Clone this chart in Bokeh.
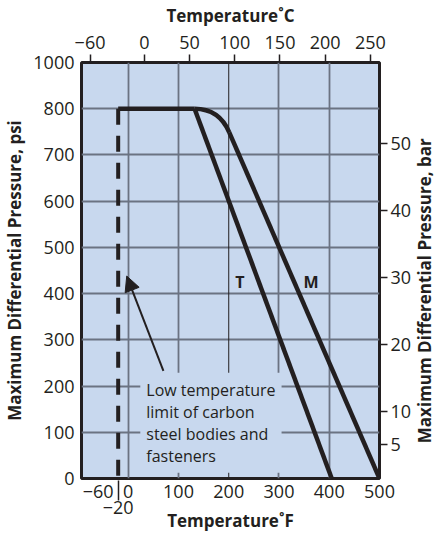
import math
from bokeh.plotting import figure
from bokeh.models import (Range1d, LinearAxis, FixedTicker, Span, Label, Arrow,
                          NormalHead)
from bokeh.embed import file_html
from bokeh.resources import INLINE

# ---------------- data ----------------
x_min_f, x_max_f = -93, 500
psi_min, psi_top = 0, 900          # top grid row is labelled 1000 in the original
PSI_PER_BAR = 14.5

f_ticks = [-60, 0, 100, 200, 300, 400, 500]
f_extra_ticks = [-20]
c_ticks = [-60, 0, 50, 100, 150, 200, 250]
psi_ticks = [0, 100, 200, 300, 400, 500, 600, 700, 800, 900]
psi_tick_labels = ["0", "100", "200", "300", "400", "500", "600", "700", "800", "1000"]
bar_ticks = [5, 10, 20, 30, 40, 50]

low_limit_f = [-20, -20]
low_limit_psi = [800, 0]

plateau_f = [-20, 132]
plateau_psi = [800, 800]

t_f = [132, 405]
t_psi = [800, 0]

# M: rounded corner then straight descent
m_curve_start = (132, 800)
m_curve_ctrl = (181, 800)
m_curve_end = (201, 749)
m_f = [201, 500]
m_psi = [749, 0]

arrow_tail = (70, 233)
arrow_tip = (-3, 438)
note_pos = (24, 229)
note_text = "Low temperature\nlimit of carbon\nsteel bodies and\nfasteners"
t_label_pos = (222, 425)
m_label_pos = (364, 425)

# ---------------- style ----------------
INK = "#231f20"
BG = "#c8d8ee"
GRID = "#6b7382"
FONT = "Open Sans"


def f_to_c(f):
    return (f - 32) * 5.0 / 9.0


p = figure(frame_width=298, frame_height=416, output_backend="svg",
           toolbar_location=None,
           x_range=Range1d(x_min_f, x_max_f), y_range=Range1d(psi_min, psi_top),
           min_border=0)
p.background_fill_color = BG
p.border_fill_color = "white"
p.outline_line_color = INK
p.outline_line_width = 3

# grid
p.xgrid.ticker = FixedTicker(ticks=[0, 100, 300, 400])
p.ygrid.ticker = FixedTicker(ticks=[100, 200, 300, 400, 500, 600, 700, 800])
for g in (p.xgrid[0], p.ygrid[0]):
    g.grid_line_color = GRID
    g.grid_line_width = 1.8
p.add_layout(Span(location=200, dimension="height", line_color=INK,
                  line_width=1, level="underlay"))


def style_axis(ax, label):
    ax.axis_label = label
    ax.axis_label_text_font = FONT
    ax.axis_label_text_font_style = "bold"
    ax.axis_label_text_font_size = "17px"
    ax.axis_label_text_color = INK
    ax.major_label_text_font = FONT
    ax.major_label_text_font_size = "18px"
    ax.major_label_text_color = INK
    ax.axis_line_color = None
    ax.major_tick_line_color = INK
    ax.major_tick_line_width = 1.5
    ax.minor_tick_line_color = None
    ax.major_tick_in = 0


# bottom axis (Fahrenheit), main tick labels
bx = p.xaxis[0]
style_axis(bx, None)
bx.ticker = FixedTicker(ticks=f_ticks)
bx.major_tick_out = 0
bx.major_label_standoff = 6

# second bottom row: the -20 label (one line lower) and the axis title
bx2 = LinearAxis()
style_axis(bx2, "Temperature\u02daF")
bx2.ticker = FixedTicker(ticks=f_extra_ticks)
bx2.major_tick_out = 0
bx2.major_tick_in = 20
bx2.major_label_standoff = 0
bx2.axis_label_standoff = -8
p.add_layout(bx2, "below")

# left axis (psi)
ly = p.yaxis[0]
style_axis(ly, "Maximum Differential Pressure, psi")
ly.ticker = FixedTicker(ticks=psi_ticks)
ly.major_label_overrides = {v: s for v, s in zip(psi_ticks, psi_tick_labels)}
ly.major_tick_out = 0
ly.major_label_standoff = 7
ly.axis_label_standoff = 4

# top axis (Celsius)
p.extra_x_ranges = {"C": Range1d(f_to_c(x_min_f), f_to_c(x_max_f))}
tx = LinearAxis(x_range_name="C")
style_axis(tx, "Temperature\u02daC")
tx.ticker = FixedTicker(ticks=c_ticks)
tx.major_tick_out = 8
tx.major_label_standoff = 6
tx.axis_label_standoff = 6
p.add_layout(tx, "above")

# right axis (bar)
p.extra_y_ranges = {"bar": Range1d(psi_min / PSI_PER_BAR, psi_top / PSI_PER_BAR)}
ry = LinearAxis(y_range_name="bar")
right_title = "Maximum Differential Pressure, bar"
ry.ticker = FixedTicker(ticks=bar_ticks)
props = ry.properties()
if "axis_label_orientation" in props and "axis_label_align" in props:
    # read bottom-to-top like the left title
    style_axis(ry, "\u00a0" * 8 + right_title)
    ry.axis_label_orientation = math.pi / 2
    ry.axis_label_align = "start"
    ry.axis_label_standoff = 10
else:
    style_axis(ry, right_title)
    ry.axis_label_standoff = 3
ry.major_tick_out = 8
ry.major_label_standoff = 3
p.add_layout(ry, "right")

# curves
p.line(low_limit_f, low_limit_psi, line_color=INK, line_width=4, line_dash="16 11")
p.line(plateau_f, plateau_psi, line_color=INK, line_width=4.5)
p.line(t_f, t_psi, line_color=INK, line_width=4.5)
p.quadratic(x0=[m_curve_start[0]], y0=[m_curve_start[1]],
            x1=[m_curve_end[0]], y1=[m_curve_end[1]],
            cx=[m_curve_ctrl[0]], cy=[m_curve_ctrl[1]],
            line_color=INK, line_width=4.5)
p.line(m_f, m_psi, line_color=INK, line_width=4.5)

# annotations
p.add_layout(Label(x=note_pos[0], y=note_pos[1], text=note_text,
                   text_font=FONT, text_font_size="16px", text_color=INK,
                   text_align="left", text_baseline="top", text_line_height=1.0,
                   background_fill_color=BG, padding=6))
p.add_layout(Arrow(x_start=arrow_tail[0], y_start=arrow_tail[1],
                   x_end=arrow_tip[0], y_end=arrow_tip[1],
                   line_color=INK, line_width=2,
                   end=NormalHead(size=15, fill_color=INK, line_color=INK)))
for txt, pos in (("T", t_label_pos), ("M", m_label_pos)):
    p.add_layout(Label(x=pos[0], y=pos[1], text=txt, text_font=FONT,
                       text_font_size="16px", text_font_style="bold",
                       text_color=INK, text_align="center",
                       text_baseline="middle"))

open("out.html", "w").write(file_html(p, INLINE))
